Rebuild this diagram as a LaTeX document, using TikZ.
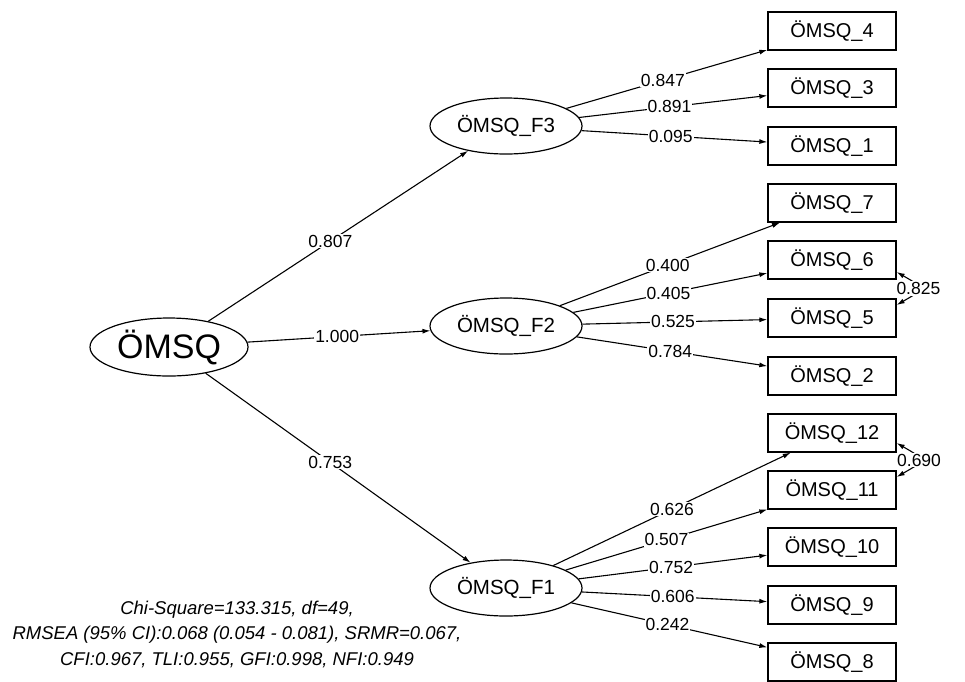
\documentclass[tikz,border=0pt]{standalone}
\usepackage{fontspec}
\setmainfont{Liberation Sans}
\usetikzlibrary{shapes.geometric,arrows.meta}
\begin{document}
\begin{tikzpicture}[x=1pt,y=-1pt,
 obs/.style={draw,line width=1.3pt,minimum width=128pt,minimum height=38pt,inner sep=0pt,font=\fontsize{20}{20}\selectfont},
 lat/.style={draw,ellipse,line width=1.2pt,minimum width=152pt,minimum height=56pt,inner sep=0pt,font=\fontsize{20.5}{20.5}\selectfont},
 load/.style={line width=1.1pt,-{Latex[length=8pt,width=5pt]}},
 cov/.style={line width=1.1pt,{Latex[length=8pt,width=5pt]}-{Latex[length=8pt,width=5pt]}},
 lbl/.style={fill=white,inner sep=1pt,font=\fontsize{17.5}{17.5}\selectfont}
]
\useasboundingbox (0,0) rectangle (965,681);

\node[lat,minimum width=158pt,minimum height=58pt,font=\fontsize{34}{34}\selectfont] (G) at (169,347) {ÖMSQ};
\node[lat] (F3) at (506,126) {ÖMSQ\_F3};
\node[lat] (F2) at (506,326) {ÖMSQ\_F2};
\node[lat] (F1) at (506,588) {ÖMSQ\_F1};

\node[obs] (b4) at (832,31) {ÖMSQ\_4};
\node[obs] (b3) at (832,88) {ÖMSQ\_3};
\node[obs] (b1) at (832,146) {ÖMSQ\_1};
\node[obs] (b7) at (832,203) {ÖMSQ\_7};
\node[obs] (b6) at (832,260) {ÖMSQ\_6};
\node[obs] (b5) at (832,318) {ÖMSQ\_5};
\node[obs] (b2) at (832,376) {ÖMSQ\_2};
\node[obs] (b12) at (832,433) {ÖMSQ\_12};
\node[obs] (b11) at (832,490) {ÖMSQ\_11};
\node[obs] (b10) at (832,547) {ÖMSQ\_10};
\node[obs] (b9) at (832,605) {ÖMSQ\_9};
\node[obs] (b8) at (832,662) {ÖMSQ\_8};

\draw[load] (G) -- node[lbl,pos=0.47]{0.807} (F3);
\draw[load] (G) -- node[lbl,pos=0.49]{1.000} (F2);
\draw[load] (G) -- node[lbl,pos=0.47]{0.753} (F1);

\draw[load] (F3) -- node[lbl,pos=0.48]{0.847} (b4);
\draw[load] (F3) -- node[lbl,pos=0.48]{0.891} (b3);
\draw[load] (F3) -- node[lbl,pos=0.48]{0.095} (b1);

\draw[load] (F2) -- node[lbl,pos=0.49]{0.400} (b7);
\draw[load] (F2) -- node[lbl,pos=0.49]{0.405} (b6);
\draw[load] (F2) -- node[lbl,pos=0.49]{0.525} (b5);
\draw[load] (F2) -- node[lbl,pos=0.49]{0.784} (b2);

\draw[load] (F1) -- node[lbl,pos=0.5]{0.626} (b12);
\draw[load] (F1) -- node[lbl,pos=0.5]{0.507} (b11);
\draw[load] (F1) -- node[lbl,pos=0.49]{0.752} (b10);
\draw[load] (F1) -- node[lbl,pos=0.49]{0.606} (b9);
\draw[load] (F1) -- node[lbl,pos=0.49]{0.242} (b8);

\draw[cov] ([yshift=-12pt]b6.east) to[out=-30,in=30,looseness=2.6] node[lbl,pos=0.5]{0.825} ([yshift=13pt]b5.east);
\draw[cov] ([yshift=-10pt]b12.east) to[out=-30,in=30,looseness=2.6] node[lbl,pos=0.5]{0.690} ([yshift=13pt]b11.east);

\node[align=center,font=\fontsize{18.5}{25.5}\selectfont\itshape] (stats) at (237,634)
 {Chi-Square=133.315, df=49,\\RMSEA (95\% CI):0.068 (0.054 - 0.081), SRMR=0.067,\\CFI:0.967, TLI:0.955, GFI:0.998, NFI:0.949};
\end{tikzpicture}
\end{document}
